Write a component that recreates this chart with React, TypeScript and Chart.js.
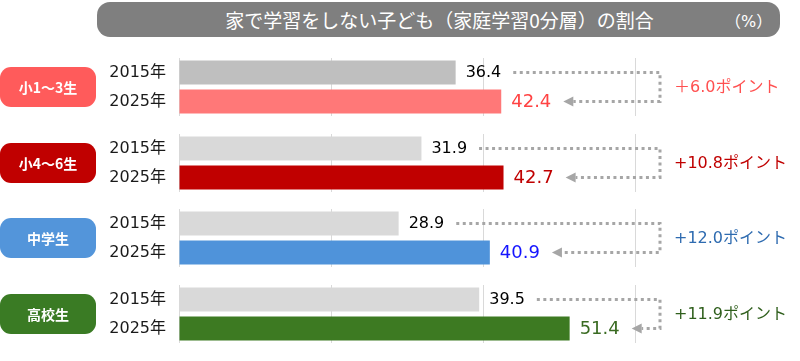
import React, { useEffect, useRef } from "react";
import { Chart, registerables } from "chart.js";

Chart.register(...registerables);

const titleText = "家で学習をしない子ども（家庭学習0分層）の割合";
const unitText = "（%）";
const groups = ["小1～3生", "小4～6生", "中学生", "高校生"];
const years = ["2015年", "2025年"];
const values2015 = [36.4, 31.9, 28.9, 39.5];
const values2025 = [42.4, 42.7, 40.9, 51.4];
const diffLabels = ["＋6.0ポイント", "+10.8ポイント", "+12.0ポイント", "+11.9ポイント"];
const xMax = 80;
const xStep = 20;

const badgeColors = ["#FF5B5B", "#C00000", "#5395DA", "#3A7B24"];
const bar2015Colors = ["#BFBFBF", "#D9D9D9", "#D9D9D9", "#D9D9D9"];
const bar2025Colors = ["#FF7878", "#C00000", "#4F93DA", "#3D7A22"];
const value2025Colors = ["#FF4343", "#C00000", "#1414FF", "#3A6B22"];
const diffColors = ["#FF5050", "#C00000", "#2E6BB0", "#2F5F1C"];

const FONT = '"DejaVu Sans", "Noto Sans CJK JP", sans-serif';
const CJK = '"Noto Sans CJK JP", "DejaVu Sans", sans-serif';

function GroupChart({ idx, top }: { idx: number; top: number }) {
  const ref = useRef<HTMLCanvasElement | null>(null);
  useEffect(() => {
    if (!ref.current) return;
    const overlay = {
      id: "overlay",
      afterDatasetsDraw(chart: any) {
        const ctx = chart.ctx;
        const area = chart.chartArea;
        const meta = chart.getDatasetMeta(0);
        const b0 = meta.data[0];
        const b1 = meta.data[1];
        const cy = (area.top + area.bottom) / 2;
        ctx.save();
        // badge
        ctx.fillStyle = badgeColors[idx];
        ctx.beginPath();
        (ctx as any).roundRect(0, cy - 20, 96, 40, 11);
        ctx.fill();
        ctx.fillStyle = "#FFFFFF";
        ctx.font = `bold 14px ${CJK}`;
        ctx.textAlign = "center";
        ctx.textBaseline = "middle";
        ctx.fillText(groups[idx], 48, cy + 1);

        // value labels
        ctx.textAlign = "left";
        ctx.font = `16px ${FONT}`;
        ctx.fillStyle = "#000000";
        const t0 = values2015[idx].toFixed(1);
        const x0 = b0.x + 10;
        ctx.fillText(t0, x0, b0.y);
        const end0 = x0 + ctx.measureText(t0).width;

        ctx.font = `18px ${FONT}`;
        ctx.fillStyle = value2025Colors[idx];
        const t1 = values2025[idx].toFixed(1);
        const x1 = b1.x + 10;
        ctx.fillText(t1, x1, b1.y + 1);
        const end1 = x1 + ctx.measureText(t1).width;

        // connector
        const vx = 660;
        const tip = end1 + 12;
        ctx.strokeStyle = "#A6A6A6";
        ctx.lineWidth = 3;
        ctx.setLineDash([3, 3.5]);
        ctx.beginPath();
        ctx.moveTo(end0 + 12, b0.y);
        ctx.lineTo(vx, b0.y);
        ctx.lineTo(vx, b1.y);
        ctx.lineTo(tip + 10, b1.y);
        ctx.stroke();
        ctx.setLineDash([]);
        ctx.fillStyle = "#A6A6A6";
        ctx.beginPath();
        ctx.moveTo(tip, b1.y);
        ctx.lineTo(tip + 10, b1.y - 5);
        ctx.lineTo(tip + 10, b1.y + 5);
        ctx.closePath();
        ctx.fill();

        // diff text
        ctx.font = `16px ${FONT}`;
        ctx.fillStyle = diffColors[idx];
        ctx.textAlign = "left";
        ctx.fillText(diffLabels[idx], 674, cy + 1);
        ctx.restore();
      },
    };
    const chart = new Chart(ref.current, {
      type: "bar",
      data: {
        labels: years,
        datasets: [
          {
            data: [values2015[idx], values2025[idx]],
            backgroundColor: [bar2015Colors[idx], bar2025Colors[idx]],
            barPercentage: 24 / 29,
            categoryPercentage: 1,
          },
        ],
      },
      options: {
        indexAxis: "y",
        responsive: false,
        animation: false,
        events: [],
        layout: { padding: { top: 10, bottom: 10, right: 13, left: 0 } },
        plugins: { legend: { display: false }, tooltip: { enabled: false } },
        scales: {
          x: {
            min: 0,
            max: xMax,
            ticks: { display: false, stepSize: xStep },
            grid: {
              drawTicks: false,
              color: (c: any) => (c.tick && c.tick.value === xMax ? "rgba(0,0,0,0)" : "#D9D9D9"),
              lineWidth: 1,
            },
            border: { display: false },
            afterFit: (s: any) => {
              s.height = 0;
              s.paddingLeft = 0;
              s.paddingRight = 0;
            },
          },
          y: {
            grid: { display: false, drawTicks: false },
            border: { display: false },
            ticks: {
              color: "#1A1A1A",
              padding: 13,
              font: { size: 16, family: FONT },
            },
            afterFit: (s: any) => {
              s.width = 179;
              s.paddingTop = 0;
              s.paddingBottom = 0;
            },
          },
        },
      },
      plugins: [overlay],
    } as any);
    return () => chart.destroy();
  }, [idx]);
  return (
    <canvas
      ref={ref}
      width={800}
      height={78}
      style={{ position: "absolute", left: 0, top, width: 800, height: 78, display: "block" }}
    />
  );
}

export default function App() {
  const tops = groups.map((_, i) => Math.round(48 + i * 75.67));
  return (
    <div
      style={{
        position: "absolute",
        left: 0,
        top: 0,
        width: 800,
        height: 361,
        background: "#FFFFFF",
        overflow: "hidden",
        fontFamily: CJK,
      }}
    >
      <div
        style={{
          position: "absolute",
          left: 97,
          top: 2,
          width: 683,
          height: 35,
          borderRadius: 13,
          background: "#7F7F7F",
          color: "#FFFFFF",
          fontSize: 19,
          display: "flex",
          alignItems: "center",
          justifyContent: "center",
          whiteSpace: "nowrap",
        }}
      >
        <span style={{ marginLeft: 2 }}>{titleText}</span>
        <span style={{ position: "absolute", left: 628, fontSize: 16, fontFamily: FONT }}>{unitText}</span>
      </div>
      {groups.map((_, i) => (
        <GroupChart key={i} idx={i} top={tops[i]} />
      ))}
    </div>
  );
}
